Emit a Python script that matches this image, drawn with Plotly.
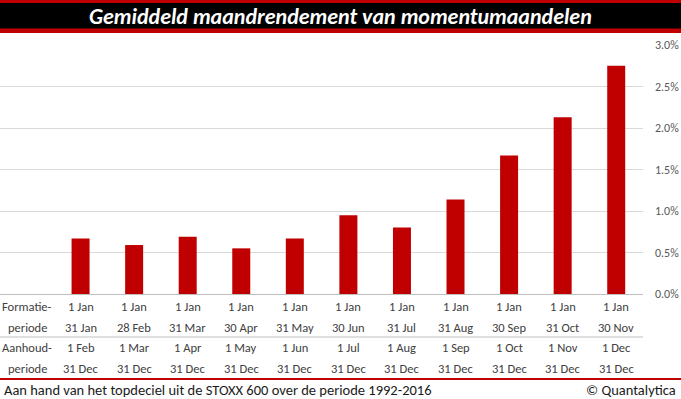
import plotly.graph_objects as go

# ---- data ----
header_col = "Formatie-"
formation_start = ["1 Jan"] * 11
formation_end = ["31 Jan", "28 Feb", "31 Mar", "30 Apr", "31 May", "30 Jun",
                 "31 Jul", "31 Aug", "30 Sep", "31 Oct", "30 Nov"]
holding_start = ["1 Feb", "1 Mar", "1 Apr", "1 May", "1 Jun", "1 Jul",
                 "1 Aug", "1 Sep", "1 Oct", "1 Nov", "1 Dec"]
holding_end = ["31 Dec"] * 11
returns_pct = [0.67, 0.59, 0.69, 0.55, 0.67, 0.95, 0.80, 1.14, 1.67, 2.13, 2.75]
row_labels = ["Formatie-", "periode", "Aanhoud-", "periode"]
y_ticks = [0.0, 0.5, 1.0, 1.5, 2.0, 2.5, 3.0]
title = "Gemiddeld maandrendement van momentumaandelen"
footer_left = "Aan hand van het topdeciel uit de STOXX 600 over de periode 1992-2016"
footer_right = "© Quantalytica"

W, H = 681, 399
PX_L, PX_R, PX_T, PX_B = 0, 643, 45, 294
FONT = "Carlito, Lato, 'Open Sans', sans-serif"
RED = "#c00000"
TXT = "#404040"

def px(x):
    return x / W

def py(y):
    return 1 - y / H

cats = [header_col] + formation_end
vals = [None] + [v / 100 for v in returns_pct]

fig = go.Figure(go.Bar(x=cats, y=vals, marker_color=RED, marker_line_width=0))

# table rows under the chart
rows_y = [306.5, 327, 347.5, 368]
rows = [formation_start, formation_end, holding_start, holding_end]
ann = []
for r, (yy, row) in enumerate(zip(rows_y, rows)):
    ann.append(dict(x=header_col, y=py(yy), xref="x", yref="paper", text=row_labels[r],
                    showarrow=False, font=dict(family=FONT, size=12.5, color=TXT),
                    xanchor="center", yanchor="middle"))
    for c, t in zip(formation_end, row):
        ann.append(dict(x=c, y=py(yy), xref="x", yref="paper", text=t, showarrow=False,
                        font=dict(family=FONT, size=12.5, color=TXT),
                        xanchor="center", yanchor="middle"))

ann.append(dict(x=px(340), y=py(16), xref="paper", yref="paper", text="<b><i>" + title + "</i></b>",
                showarrow=False, font=dict(family=FONT, size=22, color="white"),
                xanchor="center", yanchor="middle"))
ann.append(dict(x=px(2), y=py(389.5), xref="paper", yref="paper", text=footer_left,
                showarrow=False, font=dict(family=FONT, size=14.5, color="#1a1a1a"),
                xanchor="left", yanchor="middle"))
ann.append(dict(x=px(678), y=py(389.5), xref="paper", yref="paper", text=footer_right,
                showarrow=False, font=dict(family=FONT, size=14.5, color="#1a1a1a"),
                xanchor="right", yanchor="middle"))

shapes = [
    # title band
    dict(type="rect", xref="paper", yref="paper", x0=0, x1=1, y0=py(33), y1=py(0),
         fillcolor=RED, line_width=0, layer="below"),
    dict(type="rect", xref="paper", yref="paper", x0=0, x1=1, y0=py(28.5), y1=py(3),
         fillcolor="black", line_width=0, layer="below"),
    # separator between formation and holding rows
    dict(type="line", xref="paper", yref="paper", x0=px(PX_L), x1=px(PX_R), y0=py(337), y1=py(337),
         line=dict(color="#bfbfbf", width=1)),
    # red line above footer
    dict(type="line", xref="paper", yref="paper", x0=0, x1=1, y0=py(379), y1=py(379),
         line=dict(color=RED, width=2)),
]

fig.update_layout(
    width=W, height=H,
    margin=dict(l=0, r=0, t=0, b=0, autoexpand=False),
    paper_bgcolor="white", plot_bgcolor="white",
    showlegend=False,
    bargap=1 - 18 / ((PX_R - PX_L) / 12),
    annotations=ann,
    shapes=shapes,
    xaxis=dict(domain=[px(PX_L), px(PX_R)], showticklabels=False, showgrid=False,
               automargin=False,
               showline=True, linecolor="#bfbfbf", linewidth=1, ticks="", fixedrange=True),
    yaxis=dict(domain=[py(PX_B), py(PX_T)], side="right", range=[0, 0.03],
               automargin=False,
               tickvals=[t / 100 for t in y_ticks], tickformat=".1%",
               showgrid=True, gridcolor="#d9d9d9", gridwidth=1, zeroline=False,
               showline=False, ticks="", ticklabelstandoff=11,
               tickfont=dict(family=FONT, size=12, color="#595959")),
    font=dict(family=FONT),
)

fig.write_html("out.html", post_script="document.body.style.margin='0';document.body.style.overflow='hidden';",
               config={"displayModeBar": False})
